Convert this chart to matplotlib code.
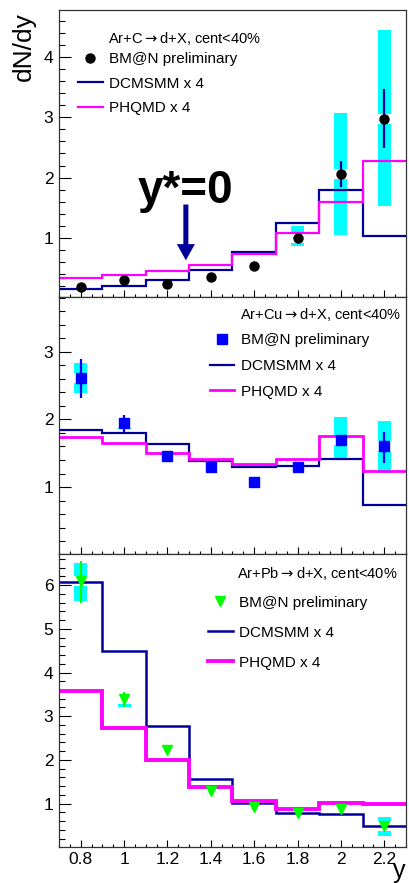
import numpy as np
import matplotlib
matplotlib.use("Agg")
import matplotlib.pyplot as plt
from matplotlib.ticker import MultipleLocator
from matplotlib.lines import Line2D

plt.rcParams['font.family'] = ['Liberation Sans', 'DejaVu Sans']

# rapidity bins
edges = [0.7, 0.9, 1.1, 1.3, 1.5, 1.7, 1.9, 2.1, 2.3]
y_pts = [0.8, 1.0, 1.2, 1.4, 1.6, 1.8, 2.0, 2.2]

# Ar+C
c_data = [0.17, 0.29, 0.22, 0.34, 0.52, 1.00, 2.06, 2.98]
c_stat_lo = [0.15, 0.27, 0.20, 0.32, 0.50, 0.96, 1.85, 2.49]
c_stat_hi = [0.19, 0.31, 0.24, 0.36, 0.54, 1.04, 2.27, 3.47]
c_sys_lo = [0.14, 0.26, 0.19, 0.31, 0.49, 0.86, 1.04, 1.52]
c_sys_hi = [0.20, 0.32, 0.25, 0.37, 0.55, 1.19, 3.08, 4.45]
c_dcm = [0.14, 0.19, 0.30, 0.46, 0.76, 1.24, 1.80, 1.03]
c_phq = [0.32, 0.38, 0.44, 0.55, 0.72, 1.08, 1.59, 2.27]

# Ar+Cu
cu_data = [2.61, 1.94, 1.46, 1.30, 1.08, 1.29, 1.69, 1.60]
cu_stat_lo = [2.32, 1.82, 1.42, 1.26, 1.04, 1.25, 1.62, 1.35]
cu_stat_hi = [2.90, 2.06, 1.50, 1.34, 1.12, 1.33, 1.76, 1.82]
cu_sys_lo = [2.39, 1.86, 1.40, 1.24, 1.04, 1.22, 1.42, 1.21]
cu_sys_hi = [2.84, 2.02, 1.52, 1.36, 1.12, 1.36, 2.04, 1.98]
cu_dcm = [1.84, 1.80, 1.64, 1.38, 1.30, 1.31, 1.41, 0.74]
cu_phq = [1.74, 1.65, 1.50, 1.41, 1.34, 1.41, 1.75, 1.24]

# Ar+Pb
pb_data = [6.10, 3.39, 2.23, 1.30, 0.93, 0.78, 0.89, 0.49]
pb_stat_lo = [5.59, 3.20, 2.15, 1.24, 0.88, 0.73, 0.82, 0.40]
pb_stat_hi = [6.54, 3.56, 2.31, 1.36, 0.98, 0.83, 0.96, 0.58]
pb_sys_lo = [5.64, 3.22, 2.14, 1.22, 0.86, 0.71, 0.74, 0.26]
pb_sys_hi = [6.50, 3.51, 2.32, 1.38, 1.00, 0.85, 1.07, 0.69]
pb_dcm = [6.08, 4.50, 2.78, 1.56, 1.01, 0.79, 0.76, 0.49]
pb_phq = [3.58, 2.73, 2.00, 1.39, 1.06, 0.89, 1.01, 0.99]

headers = [r'Ar+C$\rightarrow$d+X, cent<40%',
           r'Ar+Cu$\rightarrow$d+X, cent<40%',
           r'Ar+Pb$\rightarrow$d+X, cent<40%']

navy = '#000099'
W, H = 410, 883

fig = plt.figure(figsize=(W / 100, H / 100), dpi=100)

panels = [
    dict(top=10, bot=297, ymax=4.79, d=c_data, slo=c_stat_lo, shi=c_stat_hi, ylo=c_sys_lo, yhi=c_sys_hi,
         dcm=c_dcm, phq=c_phq, mk='o', mc='black', ec=navy, ms=6.5, lwd=1.6, lwp=1.6,
         hx=0.141, hy=0.902, lx=0.055, ly=0.853, ls=0.68),
    dict(top=297, bot=554, ymax=3.81, d=cu_data, slo=cu_stat_lo, shi=cu_stat_hi, ylo=cu_sys_lo, yhi=cu_sys_hi,
         dcm=cu_dcm, phq=cu_phq, mk='s', mc='#0000ff', ec='#0000ff', ms=7, lwd=1.6, lwp=2.0,
         hx=0.5216, hy=0.930, lx=0.435, ly=0.860, ls=0.78),
    dict(top=554, bot=847, ymax=6.71, d=pb_data, slo=pb_stat_lo, shi=pb_stat_hi, ylo=pb_sys_lo, yhi=pb_sys_hi,
         dcm=pb_dcm, phq=pb_phq, mk='v', mc='#00ff00', ec='#00ff00', ms=7.5, lwd=1.8, lwp=2.8,
         hx=0.513, hy=0.935, lx=0.43, ly=0.858, ls=1.05),
]

axes = []
for i, p in enumerate(panels):
    ax = fig.add_axes([59 / W, 1 - p['bot'] / H, 347 / W, (p['bot'] - p['top']) / H])
    ymin = 0.01
    ax.set_xlim(0.7, 2.3)
    ax.set_ylim(ymin, p['ymax'])
    ax_h_px = p['bot'] - p['top']
    px2d = (p['ymax'] - ymin) / ax_h_px

    d = np.array(p['d'])
    # systematic boxes
    ax.bar(y_pts, np.array(p['yhi']) - np.array(p['ylo']), bottom=p['ylo'], width=0.06,
           color='#00ffff', linewidth=0, zorder=1)
    # white gap around the marker
    gap = 10 * px2d
    ax.bar(y_pts, gap, bottom=d - gap / 2, width=0.062, color='white', linewidth=0, zorder=1.5)

    ax.stairs(p['dcm'], edges, color=navy, lw=p['lwd'], baseline=None, zorder=2)
    ax.stairs(p['phq'], edges, color='#ff00ff', lw=p['lwp'], baseline=None, zorder=2.1)

    ax.errorbar(y_pts, d, yerr=[d - np.array(p['slo']), np.array(p['shi']) - d], fmt='none',
                ecolor=p['ec'], elinewidth=1.6, capsize=0, zorder=3)
    ax.plot(y_pts, d, linestyle='none', marker=p['mk'], color=p['mc'], ms=p['ms'], mec=p['mc'], zorder=4)

    ax.xaxis.set_major_locator(MultipleLocator(0.2))
    ax.xaxis.set_minor_locator(MultipleLocator(0.05))
    ax.yaxis.set_major_locator(MultipleLocator(1))
    ax.yaxis.set_minor_locator(MultipleLocator(0.2))
    ax.tick_params(which='both', direction='in', top=False, right=False, colors='black')
    ax.tick_params(axis='x', which='major', length=5, width=0.8, pad=3.5, labelsize=12.5)
    ax.tick_params(axis='x', which='minor', length=2.5, width=0.8)
    ax.tick_params(axis='y', which='major', length=8.5, width=0.8, pad=4, labelsize=12.5)
    ax.tick_params(axis='y', which='minor', length=4.3, width=0.8)
    ax.xaxis.set_major_formatter(plt.FuncFormatter(lambda v, pos: ('%g' % round(v, 2))))
    if i < 2:
        ax.tick_params(axis='x', labelbottom=False)
    for s in ax.spines.values():
        s.set_linewidth(0.9)
        s.set_color('#333333')

    ax.text(p['hx'], p['hy'], headers[i], transform=ax.transAxes, fontsize=10.5,
            ha='left', va='center')
    handles = [Line2D([], [], linestyle='none', marker=p['mk'], color=p['mc'], ms=p['ms']),
               Line2D([], [], color=navy, lw=p['lwd']),
               Line2D([], [], color='#ff00ff', lw=p['lwp'])]
    labels = ['BM@N preliminary', 'DCMSMM x 4', 'PHQMD x 4']
    ax.legend(handles, labels, loc='upper left', bbox_to_anchor=(p['lx'], p['ly']), frameon=False,
              fontsize=11, borderpad=0, borderaxespad=0, handlelength=1.6, handletextpad=0.4,
              labelspacing=p['ls'])
    axes.append(ax)

# y*=0 arrow in the top panel
axes[0].annotate('', xy=(1.285, 0.62), xytext=(1.285, 1.55),
                 arrowprops=dict(arrowstyle='simple,head_width=1.0,head_length=0.9,tail_width=0.28',
                                 mutation_scale=13, color=navy, shrinkA=0, shrinkB=0, lw=0))
axes[0].text(1.285, 1.58, 'y*=0', fontsize=33, fontweight='bold', ha='center', va='baseline')

fig.text(24 / W, 1 - 12 / H, 'dN/dy', rotation=90, fontsize=19, ha='center', va='top')
fig.text(399 / W, 0.0, 'y', fontsize=18, ha='center', va='bottom')

fig.savefig('out.png', dpi=100)
